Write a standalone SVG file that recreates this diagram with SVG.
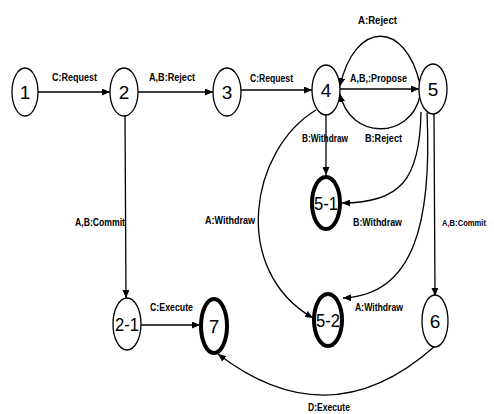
<svg xmlns="http://www.w3.org/2000/svg" width="494" height="414" viewBox="0 0 494 414">
<defs>
<style>
.n{fill:#fff;stroke:#000;stroke-width:1.3}
.t{fill:#fff;stroke:#000;stroke-width:4}
.nl{font-family:"Liberation Sans",Arial,sans-serif;font-size:19px;text-anchor:middle;fill:#000}
.e{fill:none;stroke:#000;stroke-width:1.3;marker-end:url(#ah)}
.l{font-family:"Liberation Sans",Arial,sans-serif;font-size:10px;font-weight:bold;fill:#000;text-anchor:middle}
</style>
<marker id="ah" markerUnits="userSpaceOnUse" markerWidth="8" markerHeight="7" refX="8" refY="3.5" orient="auto">
<path d="M0,0 L8,3.5 L0,7 z" fill="#000"/>
</marker>
</defs>
<rect width="494" height="414" fill="#fff"/>
<g id="edges">
<path class="e" d="M38 92 L110 92"/>
<path class="e" d="M138 92 L213 92"/>
<path class="e" d="M241 90 L312 90"/>
<path class="e" d="M340 89 L419 89"/>
<path class="e" d="M420 84 C405 20 355 20 340 86"/>
<path class="e" d="M420 96 C410 140 350 140 340 94"/>
<path class="e" d="M326 115 L326 175"/>
<path class="e" d="M421 112 C420 180 400 203 342 203"/>
<path class="e" d="M427 113 C432 220 415 295 343 298"/>
<path class="e" d="M434 114 L435 296"/>
<path class="e" d="M316 110 C250 150 230 270 313 318"/>
<path class="e" d="M125 116 L126 298"/>
<path class="e" d="M140 325 L200 325"/>
<path class="e" d="M435 346 Q330 440 218 354"/>
<text class="l" x="74.5" y="81" textLength="45" lengthAdjust="spacingAndGlyphs">C:Request</text>
<text class="l" x="172" y="81" textLength="46" lengthAdjust="spacingAndGlyphs">A,B:Reject</text>
<text class="l" x="271.5" y="82" textLength="43" lengthAdjust="spacingAndGlyphs">C:Request</text>
<text class="l" x="378.5" y="82" textLength="57" lengthAdjust="spacingAndGlyphs">A,B,:Propose</text>
<text class="l" x="377.5" y="24" textLength="39" lengthAdjust="spacingAndGlyphs">A:Reject</text>
<text class="l" x="383.5" y="142" textLength="37" lengthAdjust="spacingAndGlyphs">B:Reject</text>
<text class="l" x="325" y="142" textLength="46" lengthAdjust="spacingAndGlyphs">B:Withdraw</text>
<text class="l" x="230" y="224" textLength="50" lengthAdjust="spacingAndGlyphs">A:Withdraw</text>
<text class="l" x="100" y="226" textLength="50" lengthAdjust="spacingAndGlyphs">A,B:Commit</text>
<text class="l" x="377.5" y="226" textLength="49" lengthAdjust="spacingAndGlyphs">B:Withdraw</text>
<text class="l" x="464" y="226" style="font-size:8.5px" textLength="44" lengthAdjust="spacingAndGlyphs">A,B:Commit</text>
<text class="l" x="379" y="311" textLength="48" lengthAdjust="spacingAndGlyphs">A:Withdraw</text>
<text class="l" x="171.5" y="311" textLength="43" lengthAdjust="spacingAndGlyphs">C:Execute</text>
<text class="l" x="329" y="411" textLength="42" lengthAdjust="spacingAndGlyphs">D:Execute</text>
</g>
<g id="n1"><ellipse class="n" cx="25" cy="92" rx="13" ry="24"/><text class="nl" x="25" y="99">1</text></g>
<g id="n2"><ellipse class="n" cx="124" cy="92" rx="14" ry="24"/><text class="nl" x="124" y="99">2</text></g>
<g id="n3"><ellipse class="n" cx="227" cy="92" rx="14" ry="24"/><text class="nl" x="227" y="99">3</text></g>
<g id="n4"><ellipse class="n" cx="326" cy="90" rx="14" ry="25"/><text class="nl" x="326" y="97">4</text></g>
<g id="n5"><ellipse class="n" cx="433" cy="89" rx="14" ry="25"/><text class="nl" x="433" y="96">5</text></g>
<g id="n5-1"><ellipse class="t" cx="326" cy="203" rx="14" ry="26"/><text class="nl" x="326" y="210" textLength="24" lengthAdjust="spacingAndGlyphs">5-1</text></g>
<g id="n5-2"><ellipse class="t" cx="328" cy="320" rx="14" ry="26"/><text class="nl" x="328" y="327" textLength="24" lengthAdjust="spacingAndGlyphs">5-2</text></g>
<g id="n2-1"><ellipse class="n" cx="127" cy="324" rx="14" ry="26"/><text class="nl" x="127" y="331" textLength="24" lengthAdjust="spacingAndGlyphs">2-1</text></g>
<g id="n7"><ellipse class="t" cx="214" cy="326" rx="13" ry="27"/><text class="nl" x="214" y="333">7</text></g>
<g id="n6"><ellipse class="n" cx="435" cy="321" rx="13" ry="26"/><text class="nl" x="435" y="328">6</text></g>
</svg>
